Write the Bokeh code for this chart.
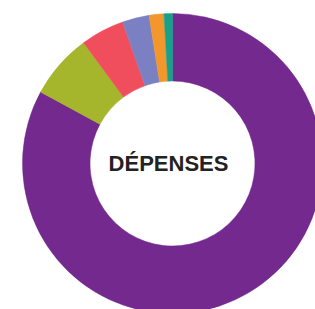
import numpy as np
from bokeh.plotting import figure
from bokeh.models import ColumnDataSource
from bokeh.core.properties import value
from bokeh.embed import file_html
from bokeh.resources import INLINE

# Data (clockwise from 12 o'clock)
categories = ["Principal", "Catégorie 2", "Catégorie 3", "Catégorie 4", "Catégorie 5", "Catégorie 6"]
shares = [82.9, 7.0, 4.7, 2.9, 1.6, 0.9]
colors = ["#74298f", "#a5b52c", "#f04e5c", "#7b80c2", "#f3962c", "#17a08a"]
center_label = "DÉPENSES"

W, H = 315, 309
cx, cy = 172, 146
r_outer, r_inner = 150, 82.5

fr = np.array(shares) / sum(shares)
cum = np.concatenate([[0], np.cumsum(fr)])
start = np.pi / 2 - cum[1:] * 2 * np.pi
end = np.pi / 2 - cum[:-1] * 2 * np.pi

src = ColumnDataSource(dict(cat=categories, start=start, end=end, color=colors,
                            x=[cx] * len(categories), y=[cy] * len(categories)))

p = figure(width=W, height=H, x_range=(0, W), y_range=(0, H),
           output_backend="svg", toolbar_location=None, min_border=0)
p.axis.visible = False
p.grid.visible = False
p.outline_line_color = None
p.background_fill_color = "white"

p.annular_wedge(x="x", y="y", inner_radius=r_inner, outer_radius=r_outer,
                start_angle="start", end_angle="end", fill_color="color",
                line_color="color", line_width=0.5, source=src)

p.text(x=[cx], y=[cy], text=[center_label], text_align="center", text_baseline="middle",
       text_font=value("Liberation Sans"), text_font_style="bold", text_font_size="22px",
       text_color="#222222", x_offset=-4)

open("out.html", "w").write(file_html(p, INLINE))
